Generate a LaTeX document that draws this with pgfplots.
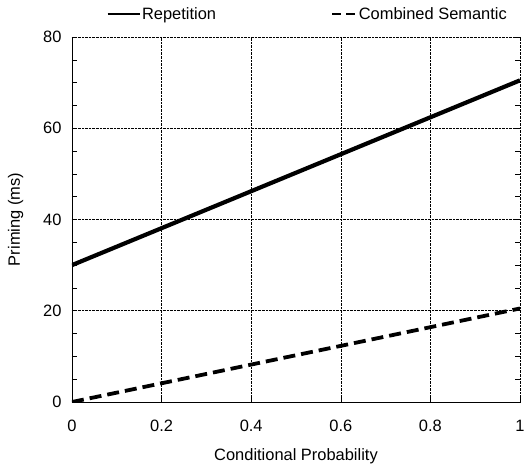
\documentclass[border=0pt]{standalone}
\usepackage{pgfplots}
\pgfplotsset{compat=1.18}
\usetikzlibrary{calc}
\usepackage{fontspec}
\setmainfont{Liberation Sans}
\pgfplotsset{frame/.style={scale only axis, width=448bp, height=365bp,
  xmin=0, xmax=1, ymin=0, ymax=80,
  xtick={0,0.2,0.4,0.6,0.8,1}, ytick={0,20,40,60,80},
  minor y tick num=3,
  tick align=inside, major tick length=5bp, minor tick length=5bp,
  tick style={black, line width=0.6pt}}}
\begin{document}
\begin{tikzpicture}
\begin{axis}[frame,
  axis x line*=bottom, axis y line*=left,
  xticklabels={0,0.2,0.4,0.6,0.8,1},
  axis line style={black, line width=0.9pt},
  grid=major, grid style={black, densely dotted, line width=0.6pt},
  /pgf/number format/assume math mode=true,
  tick label style={font=\fontsize{16.5}{19}\selectfont},
  xticklabel style={yshift=-15bp},
  yticklabel style={xshift=-7bp},
  label style={font=\fontsize{16.5}{19}\selectfont},
  xlabel={Conditional Probability}, ylabel={Priming (ms)},
  xlabel style={at={(axis description cs:0.5,-0.148)}, anchor=center},
  ylabel style={at={(axis description cs:-0.126,0.5)}, anchor=center},
  legend columns=2,
  legend style={draw=none, fill=none, inner sep=0pt, at={(axis description cs:0.076,1.063)}, anchor=west,
    nodes={inner sep=1bp},
    font=\fontsize{16.5}{19}\selectfont, /tikz/every even column/.append style={column sep=114bp}},
]
\addplot[black, line width=4.2pt,
  legend image code/.code={\draw[black, line width=2.8pt] (0bp,0bp) -- (32bp,0bp);}]
  coordinates {(0,30) (1,70.5)};
\addlegendentry{Repetition}
\addplot[black, line width=3.8pt, dash pattern=on 12bp off 6bp,
  legend image code/.code={\draw[black, line width=2.8pt, dash pattern=on 9bp off 5bp] (0bp,0bp) -- (24bp,0bp);}]
  coordinates {(0,0) (1,20.5)};
\addlegendentry{Combined Semantic}
\end{axis}
\begin{axis}[frame, axis x line=none, axis y line*=right,
  y axis line style={draw=none}, yticklabels={}]
\end{axis}
\pgfresetboundingbox
\path ($(current axis.south west)+(-72bp,-64bp)$) rectangle ($(current axis.north east)+(6bp,37bp)$);
\end{tikzpicture}
\end{document}
